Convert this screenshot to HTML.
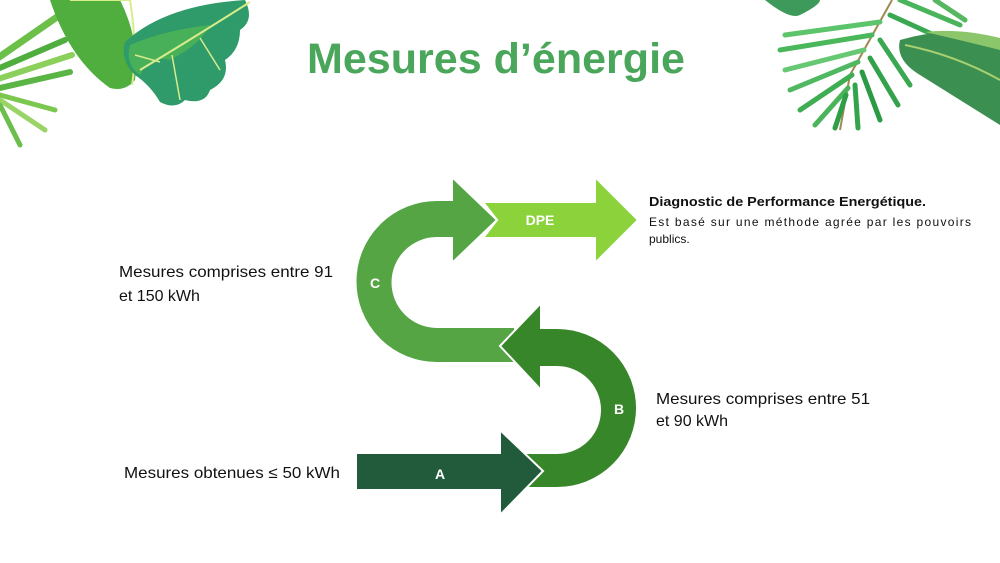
<!DOCTYPE html>
<html><head><meta charset="utf-8"><style>
html,body{margin:0;padding:0;background:#fff}
svg{display:block}
text{font-family:"Liberation Sans",sans-serif}
</style></head><body>
<svg width="1000" height="563" viewBox="0 0 1000 563" xmlns="http://www.w3.org/2000/svg">
<rect width="1000" height="563" fill="#fff"/>
<!-- top-left leaves -->
<g>
  <g stroke-linecap="round" fill="none">
    <path d="M-5,60 L70,8" stroke="#6cc04a" stroke-width="7"/>
    <path d="M-5,70 L65,40" stroke="#4fae3e" stroke-width="6"/>
    <path d="M-5,80 L72,55" stroke="#8ad05a" stroke-width="6"/>
    <path d="M0,88 L70,72" stroke="#5ab545" stroke-width="6"/>
    <path d="M0,95 L55,110" stroke="#7cc84f" stroke-width="5"/>
    <path d="M0,100 L45,130" stroke="#9ad466" stroke-width="5"/>
    <path d="M0,105 L20,145" stroke="#6cbf4c" stroke-width="5"/>
  </g>
  <path d="M50,0 L120,0 Q140,40 135,80 Q125,92 110,88 Q70,60 50,0 Z" fill="#4fae3e"/>
  <path d="M70,0 L130,0 Q138,50 132,85" stroke="#d7ec8a" stroke-width="2" fill="none"/>
  <path d="M125,42 Q165,5 245,0 Q255,20 240,30 Q240,50 225,60 Q230,80 210,90 Q205,105 185,100 Q175,110 160,102 Q150,85 135,75 Q120,60 125,42 Z" fill="#2f9a6a"/>
  <path d="M130,45 Q165,30 210,25 Q200,45 170,60 Q150,55 140,75 Q125,65 130,45Z" fill="#49b05a"/>
  <path d="M140,70 Q190,40 250,2" stroke="#d7ec8a" stroke-width="2" fill="none"/>
  <path d="M172,55 L180,100 M200,38 L220,70 M160,62 L135,55" stroke="#d7ec8a" stroke-width="1.5" fill="none"/>
</g>
<!-- top-right leaves -->
<g>
  <path d="M765,0 Q790,20 800,15 Q820,5 820,0 Z" fill="#3d9a5a"/>
  <path d="M892,0 L850,75 L840,130" stroke="#a08a50" stroke-width="2" fill="none"/>
  <g stroke-linecap="round" fill="none" stroke-width="5">
    <path d="M880,22 L785,35" stroke="#5cc46a"/>
    <path d="M872,35 L780,50" stroke="#4ab85a"/>
    <path d="M864,50 L785,70" stroke="#66c872"/>
    <path d="M858,62 L790,90" stroke="#50b860"/>
    <path d="M852,75 L800,110" stroke="#3fae52"/>
    <path d="M848,88 L815,125" stroke="#4ab45a"/>
    <path d="M846,95 L835,128" stroke="#2f9e48"/>
    <path d="M855,85 L858,128" stroke="#34a44c"/>
    <path d="M862,72 L880,120" stroke="#2a9a44"/>
    <path d="M870,58 L898,105" stroke="#34a24a"/>
    <path d="M880,40 L910,85" stroke="#3aa850"/>
    <path d="M890,15 L945,40" stroke="#3aa850"/>
    <path d="M900,0 L960,25" stroke="#4ab45a"/>
    <path d="M935,0 L965,20" stroke="#55b860"/>
  </g>
  <path d="M900,40 Q950,25 1000,40 L1000,125 Q960,100 920,75 Q895,60 900,40 Z" fill="#3b8f50"/>
  <path d="M905,45 Q955,55 1000,80" stroke="#a8d070" stroke-width="2" fill="none"/>
  <path d="M925,32 Q960,28 1000,38 L1000,50 Q960,40 925,32Z" fill="#8cc66a"/>
</g>
<!-- title -->
<text x="496" y="73" text-anchor="middle" font-size="43" font-weight="bold" fill="#4aa65a" textLength="378" lengthAdjust="spacingAndGlyphs">Mesures d’énergie</text>
<!-- arrows -->
<g stroke="#fff" stroke-width="2" stroke-linejoin="miter">
  <path d="M483,202 L595,202 L595,177 L638,220 L595,263 L595,238 L483,238 L497,220 Z" fill="#8bd23b"/>
  <path d="M497,220 L452,177 L452,200 L437,200 A81.5,81.5 0 0 0 437,363 L515,363 L515,327 L437,327 A44.5,44.5 0 0 1 437,238 L452,238 L452,263 Z" fill="#55a545"/>
  <path d="M500,346 L541,303 L541,328 L557,328 A80,80 0 0 1 557,488 L525,488 L525,453 L557,453 A43,43 0 0 0 557,367 L541,367 L541,390 Z" fill="#37862a"/>
  <path d="M356,453 L500,453 L500,430 L543,471 L500,515 L500,490 L356,490 Z" fill="#215b3b"/>
</g>
<g fill="#fff" font-weight="bold" font-size="14" text-anchor="middle">
  <text x="540" y="225">DPE</text>
  <text x="375" y="288">C</text>
  <text x="619" y="414">B</text>
  <text x="440" y="479">A</text>
</g>
<!-- labels -->
<g fill="#111" font-size="16">
  <text x="119" y="277" textLength="214" lengthAdjust="spacingAndGlyphs">Mesures comprises entre 91</text>
  <text x="119" y="301">et 150 kWh</text>
  <text x="656" y="404" textLength="214" lengthAdjust="spacingAndGlyphs">Mesures comprises entre 51</text>
  <text x="656" y="426">et 90 kWh</text>
  <text x="124" y="478" textLength="216" lengthAdjust="spacingAndGlyphs">Mesures obtenues ≤ 50 kWh</text>
</g>
<g fill="#111" font-size="12">
  <text x="649" y="206" font-weight="bold" font-size="13" textLength="277" lengthAdjust="spacingAndGlyphs">Diagnostic de Performance Energétique.</text>
  <text x="649" y="226" textLength="322" lengthAdjust="spacing">Est basé sur une méthode agrée par les pouvoirs</text>
  <text x="649" y="243">publics.</text>
</g>
</svg>
</body></html>
